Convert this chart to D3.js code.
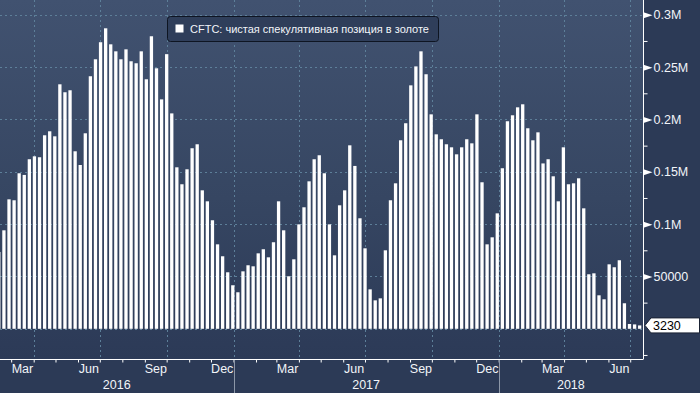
<!DOCTYPE html>
<html lang="ru">
<head>
  <meta charset="utf-8">
  <title>CFTC gold</title>
  <script type="text/javascript" src="https://cdn.jsdelivr.net/npm/d3@7"></script>
  <style>
    body { margin: 0; background: #2c3a56; }
    text { font-family: "Liberation Sans", Arial, sans-serif; }
  </style>
</head>
<body>
  <script type="text/javascript">

  // weekly CFTC net speculative gold position, first report date and values
  var firstWeek = new Date(2016, 1, 12)
  var positions = [
    73400, 94100, 123700, 122800, 148600, 147000, 162000, 164800, 163900, 184900,
    188700, 183900, 233600, 226000, 227900, 169600, 156500, 186800, 241300, 257500,
    273800, 287100, 271800, 265100, 257500, 267000, 255600, 253700, 265100, 238400,
    279500, 248900, 219200, 262400, 205800, 154300, 138100, 152400, 172500, 176300,
    132300, 121800, 103700, 80700, 69300, 54000, 41600, 34900, 54900, 60700,
    59700, 72100, 76000, 68300, 82700, 121800, 94100, 50200, 66400, 99800,
    116100, 140900, 162000, 165800, 148600, 99800, 70200, 118000, 132300, 175300,
    155600, 105600, 76900, 37700, 27200, 29100, 75000, 122800, 139000, 180100,
    196400, 232600, 250700, 265100, 243200, 204900, 185800, 181100, 176300, 173400,
    166700, 173400, 181100, 177200, 204900, 140000, 80700, 87400, 110300, 153400,
    198300, 204000, 211600, 214500, 191600, 180100, 187700, 158000, 162000, 145700,
    121800, 173400, 138100, 139000, 143800, 115100, 52100, 53000, 32000, 28200,
    61600, 58800, 65500, 24400, 4600, 4200, 3230
  ]
  var lastValue = 3230
  var seriesName = "CFTC: чистая спекулятивная позиция в золоте"

  var yMajor = [0, 50000, 100000, 150000, 200000, 250000, 300000]
  var yMinor = [-25000, 25000, 75000, 125000, 175000, 225000, 275000]
  var monthLabels = ["Mar", "Jun", "Sep", "Dec"]
  var years = [2016, 2017, 2018]

  var width = 700, height = 393
  var plotW = 643, plotH = 359

  var data = positions.map(function(v, i) {
    return { date: d3.timeWeek.offset(firstWeek, i), value: v }
  })

  var svg = d3.select("body").append("svg")
    .attr("width", width)
    .attr("height", height)

  // background gradient of the plot area
  var grad = svg.append("defs").append("linearGradient")
    .attr("id", "bg").attr("x1", 0).attr("y1", 0).attr("x2", 0).attr("y2", 1)
  grad.append("stop").attr("offset", "0%").attr("stop-color", "#415270")
  grad.append("stop").attr("offset", "55%").attr("stop-color", "#364662")
  grad.append("stop").attr("offset", "100%").attr("stop-color", "#2c3a57")

  svg.append("rect").attr("width", width).attr("height", height).attr("fill", "#2c3a56")
  svg.append("rect").attr("width", plotW).attr("height", plotH).attr("fill", "url(#bg)")

  // x scale anchored on year starts, then stretched to the visible plot
  var x = d3.scaleTime()
    .domain([new Date(2017, 0, 1), new Date(2018, 0, 1)])
    .range([233.5, 498.7])
  x.domain([x.invert(0), x.invert(plotW)]).range([0, plotW])

  var y = d3.scaleLinear().domain([0, 300000]).range([328.8, 14.8])

  // grid
  var grid = svg.append("g")
    .attr("stroke", "#5d7f99")
    .attr("stroke-dasharray", "2,3")
    .attr("stroke-width", 1)
  grid.selectAll(".gy").data(yMajor).enter().append("line")
    .attr("x1", 0).attr("x2", plotW)
    .attr("y1", d => Math.round(y(d)) + 0.5).attr("y2", d => Math.round(y(d)) + 0.5)
  grid.selectAll(".gx").data(d3.timeMonth.every(3).range(x.domain()[0], x.domain()[1])).enter().append("line")
    .attr("x1", d => Math.round(x(d)) + 0.5).attr("x2", d => Math.round(x(d)) + 0.5)
    .attr("y1", 0).attr("y2", plotH)

  // bars
  svg.append("g").attr("fill", "#ffffff")
    .selectAll("rect").data(data).enter().append("rect")
    .attr("x", d => x(d.date) - 0.9)
    .attr("width", 3.3)
    .attr("y", d => y(d.value))
    .attr("height", d => y(0) - y(d.value))

  // x axis: month ticks below the line
  var xAxis = svg.append("g")
    .attr("transform", "translate(0," + (plotH + 0.5) + ")")
    .call(d3.axisBottom(x).ticks(d3.timeMonth.every(1)).tickSize(3).tickFormat(""))
  xAxis.select(".domain").attr("stroke", "#ffffff").attr("d", "M0,0H" + plotW)
  xAxis.selectAll(".tick line").attr("stroke", "#ffffff")

  // month labels centred in their month
  var labelMonths = d3.timeMonth.range(x.domain()[0], x.domain()[1])
    .filter(d => monthLabels.indexOf(d3.timeFormat("%b")(d)) >= 0 && x(d3.timeMonth.offset(d, 1)) <= plotW + 2)
  svg.append("g").selectAll("text").data(labelMonths).enter().append("text")
    .attr("x", d => (x(d) + x(d3.timeMonth.offset(d, 1))) / 2)
    .attr("y", 373)
    .attr("text-anchor", "middle")
    .attr("fill", "#f2f5f9")
    .attr("font-size", "12.5px")
    .text(d => d3.timeFormat("%b")(d))

  // years
  var yearG = svg.append("g")
  yearG.selectAll("text").data(years).enter().append("text")
    .attr("x", d => (Math.max(0, x(new Date(d, 0, 1))) + Math.min(plotW, x(new Date(d + 1, 0, 1)))) / 2)
    .attr("y", 389)
    .attr("text-anchor", "middle")
    .attr("fill", "#f2f5f9")
    .attr("font-size", "12.5px")
    .text(d => d)
  yearG.selectAll("line").data(years.slice(1)).enter().append("line")
    .attr("x1", d => Math.round(x(new Date(d, 0, 1))) + 0.5)
    .attr("x2", d => Math.round(x(new Date(d, 0, 1))) + 0.5)
    .attr("y1", plotH + 1).attr("y2", height)
    .attr("stroke", "#8c97a8")

  // y axis on the right
  var fmt = d => d >= 100000 ? d3.format("~g")(d / 1e6) + "M" : String(d)
  var yAxis = svg.append("g")
    .attr("transform", "translate(" + (plotW + 0.5) + ",0)")
    .call(d3.axisRight(y).tickValues(yMajor.filter(d => d > 0)).tickSize(0).tickPadding(10).tickFormat(fmt))
  yAxis.select(".domain").attr("stroke", "#ffffff").attr("d", "M0,0V" + (plotH + 0.5) + "H0")
  yAxis.selectAll(".tick text")
    .attr("fill", "#f2f5f9")
    .attr("font-size", "12.5px")
    .attr("font-family", "Liberation Sans, Arial, sans-serif")
  yAxis.selectAll(".tick").append("path")
    .attr("d", "M0,-3L9,0L0,3Z")
    .attr("fill", "#ffffff")

  var yMinorAxis = svg.append("g")
    .attr("transform", "translate(" + (plotW + 0.5) + ",0)")
    .call(d3.axisRight(y).tickValues(yMinor).tickSize(4).tickFormat(""))
  yMinorAxis.select(".domain").remove()
  yMinorAxis.selectAll(".tick line").attr("stroke", "#ffffff")

  // last value marker
  var ly = y(lastValue)
  var marker = svg.append("g")
  marker.append("path")
    .attr("d", "M" + (plotW + 2) + "," + ly + "L" + (plotW + 8) + "," + (ly - 7.5) +
      "H" + (width - 0.5) + "V" + (ly + 7.5) + "H" + (plotW + 8) + "Z")
    .attr("fill", "#ffffff")
    .attr("stroke", "#1a2233")
  marker.append("text")
    .attr("x", plotW + 10)
    .attr("y", ly + 4.5)
    .attr("fill", "#000000")
    .attr("font-size", "12.5px")
    .text(d3.format("d")(lastValue))

  // legend
  var legend = svg.append("g").attr("transform", "translate(167.5,16.5)")
  legend.append("rect")
    .attr("width", 271).attr("height", 25).attr("rx", 3)
    .attr("fill", "#2f3e5a").attr("stroke", "#0e1522")
  legend.append("rect")
    .attr("x", 8).attr("y", 8).attr("width", 8).attr("height", 8)
    .attr("fill", "#ffffff")
  legend.append("text")
    .attr("x", 22.5).attr("y", 16.5)
    .attr("fill", "#f2f5f9")
    .attr("font-size", "11px")
    .text(seriesName)

  </script>
</body>
</html>
